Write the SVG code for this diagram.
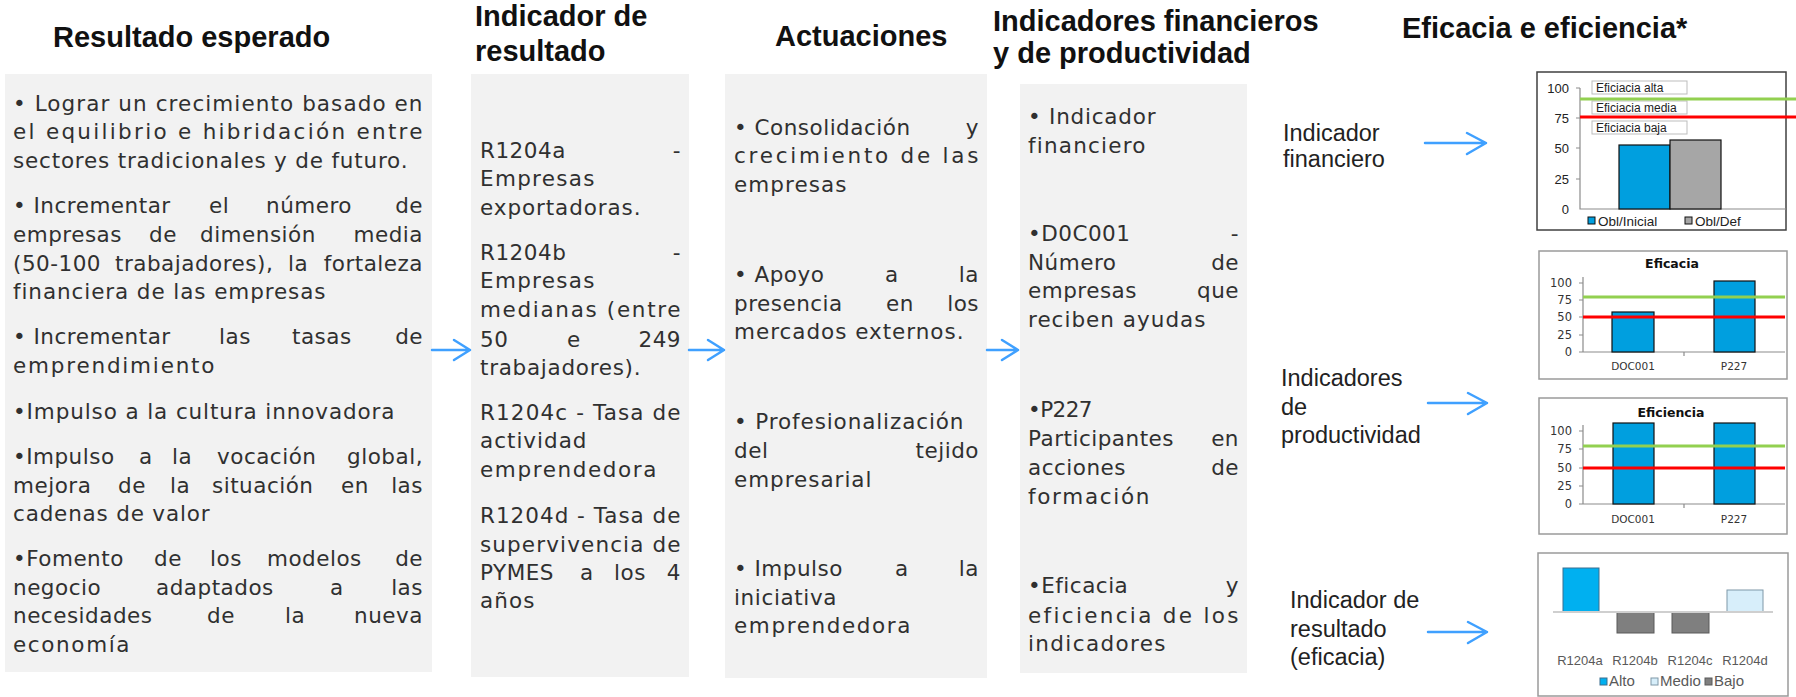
<svg xmlns="http://www.w3.org/2000/svg" width="1796" height="697" viewBox="0 0 1796 697">
<style>
.hdr{font-family:"Liberation Sans",Arial,sans-serif;font-weight:bold;font-size:29px;fill:#111}
.panel{fill:#f2f2f2}
.body{font-family:"DejaVu Sans",Verdana,sans-serif;font-size:21.5px;fill:#303030;letter-spacing:0.5px}
.e{text-anchor:end}
.lbl{font-family:"Liberation Sans",Arial,sans-serif;font-size:23.5px;fill:#222}
.arr{stroke:#3fa0ff;stroke-width:2.5;fill:none;stroke-linecap:round;stroke-linejoin:round}
.frame{fill:#fff;stroke:#9a9a9a;stroke-width:1.5}
.axis{stroke:#8c8c8c;stroke-width:1.2;fill:none}
.ax{font-family:"Liberation Sans",Arial,sans-serif;font-size:13px;fill:#222}
.axr{font-family:"DejaVu Sans",Verdana,sans-serif;font-size:11.5px;fill:#333;text-anchor:end}
.xl{font-family:"DejaVu Sans",Verdana,sans-serif;font-size:10.5px;fill:#333;text-anchor:middle}
.ttl{font-family:"DejaVu Sans",Verdana,sans-serif;font-size:12.5px;font-weight:bold;fill:#111;text-anchor:middle}
.bar{fill:#009fdf;stroke:#111;stroke-width:1.2}
.grn{stroke:#92d050;stroke-width:3}
.red{stroke:#ff0000;stroke-width:3}
.box{fill:#fff;stroke:#bdbdbd;stroke-width:1}
.bt{font-family:"Liberation Sans",Arial,sans-serif;font-size:12px;fill:#222}
.lg{font-family:"Liberation Sans",Arial,sans-serif;font-size:13.5px;fill:#222}
.cl{font-family:"Liberation Sans",Arial,sans-serif;font-size:13px;fill:#595959}
.lg4{font-family:"Liberation Sans",Arial,sans-serif;font-size:15px;fill:#595959}
</style>

<g id="header-resultado"><text class="hdr" x="53" y="47">Resultado esperado</text></g>
<g id="header-indicador"><text class="hdr" x="475" y="26">Indicador de</text><text class="hdr" x="475" y="61">resultado</text></g>
<g id="header-actuaciones"><text class="hdr" x="775" y="46">Actuaciones</text></g>
<g id="header-financieros"><text class="hdr" x="993" y="31">Indicadores financieros</text><text class="hdr" x="993" y="63">y de productividad</text></g>
<g id="header-eficacia"><text class="hdr" x="1402" y="38">Eficacia e eficiencia*</text></g>

<g id="panel-resultado">
<rect class="panel" x="5" y="74" width="427" height="598"/>
<text class="body" x="13" y="111" textLength="410">• Lograr un crecimiento basado en</text>
<text class="body" x="13" y="139" textLength="410">el equilibrio e hibridación entre</text>
<text class="body" x="13" y="168" textLength="395">sectores tradicionales y de futuro.</text>
<text class="body" y="213"><tspan x="13">• Incrementar</tspan><tspan x="209">el</tspan><tspan x="266">número</tspan><tspan class="e" x="423">de</tspan></text>
<text class="body" y="242"><tspan x="13">empresas</tspan><tspan x="149">de</tspan><tspan x="200">dimensión</tspan><tspan class="e" x="423">media</tspan></text>
<text class="body" y="271"><tspan x="13">(50-100</tspan><tspan x="115">trabajadores),</tspan><tspan x="288">la</tspan><tspan class="e" x="423">fortaleza</tspan></text>
<text class="body" x="13" y="299" textLength="313">financiera de las empresas</text>
<text class="body" y="344"><tspan x="13">• Incrementar</tspan><tspan x="219">las</tspan><tspan x="292">tasas</tspan><tspan class="e" x="423">de</tspan></text>
<text class="body" x="13" y="373" textLength="202">emprendimiento</text>
<text class="body" x="13" y="419" textLength="382">•Impulso a la cultura innovadora</text>
<text class="body" y="464"><tspan x="13">•Impulso</tspan><tspan x="139">a</tspan><tspan x="172">la</tspan><tspan x="217">vocación</tspan><tspan class="e" x="423">global,</tspan></text>
<text class="body" y="493"><tspan x="13">mejora</tspan><tspan x="118">de</tspan><tspan x="170">la</tspan><tspan x="212">situación</tspan><tspan x="341">en</tspan><tspan class="e" x="423">las</tspan></text>
<text class="body" x="13" y="521" textLength="197">cadenas de valor</text>
<text class="body" y="566"><tspan x="13">•Fomento</tspan><tspan x="154">de</tspan><tspan x="210">los</tspan><tspan x="267">modelos</tspan><tspan class="e" x="423">de</tspan></text>
<text class="body" y="595"><tspan x="13">negocio</tspan><tspan x="156">adaptados</tspan><tspan x="330">a</tspan><tspan class="e" x="423">las</tspan></text>
<text class="body" y="623"><tspan x="13">necesidades</tspan><tspan x="207">de</tspan><tspan x="285">la</tspan><tspan class="e" x="423">nueva</tspan></text>
<text class="body" x="13" y="652" textLength="117">economía</text>
</g>

<g id="panel-indicador">
<rect class="panel" x="471" y="74" width="218" height="603"/>
<text class="body" y="158"><tspan x="480">R1204a</tspan><tspan class="e" x="681">-</tspan></text>
<text class="body" x="480" y="186" textLength="115">Empresas</text>
<text class="body" x="480" y="215" textLength="161">exportadoras.</text>
<text class="body" y="260"><tspan x="480">R1204b</tspan><tspan class="e" x="681">-</tspan></text>
<text class="body" x="480" y="288" textLength="115">Empresas</text>
<text class="body" x="480" y="317" textLength="201">medianas (entre</text>
<text class="body" y="347"><tspan x="480">50</tspan><tspan x="567">e</tspan><tspan class="e" x="681">249</tspan></text>
<text class="body" x="480" y="375" textLength="161">trabajadores).</text>
<text class="body" x="480" y="420" textLength="201">R1204c - Tasa de</text>
<text class="body" x="480" y="448" textLength="107">actividad</text>
<text class="body" x="480" y="477" textLength="177">emprendedora</text>
<text class="body" x="480" y="523" textLength="201">R1204d - Tasa de</text>
<text class="body" x="480" y="552" textLength="201">supervivencia de</text>
<text class="body" y="580"><tspan x="480">PYMES</tspan><tspan x="580">a</tspan><tspan x="614">los</tspan><tspan class="e" x="681">4</tspan></text>
<text class="body" x="480" y="608" textLength="55">años</text>
</g>

<g id="panel-actuaciones">
<rect class="panel" x="725" y="74" width="262" height="604"/>
<text class="body" y="135"><tspan x="734">• Consolidación</tspan><tspan class="e" x="979">y</tspan></text>
<text class="body" x="734" y="163" textLength="245">crecimiento de las</text>
<text class="body" x="734" y="192" textLength="113">empresas</text>
<text class="body" y="282"><tspan x="734">• Apoyo</tspan><tspan x="885">a</tspan><tspan class="e" x="979">la</tspan></text>
<text class="body" y="311"><tspan x="734">presencia</tspan><tspan x="886">en</tspan><tspan class="e" x="979">los</tspan></text>
<text class="body" x="734" y="339" textLength="230">mercados externos.</text>
<text class="body" x="734" y="429" textLength="230">• Profesionalización</text>
<text class="body" y="458"><tspan x="734">del</tspan><tspan class="e" x="979">tejido</tspan></text>
<text class="body" x="734" y="487" textLength="138">empresarial</text>
<text class="body" y="576"><tspan x="734">• Impulso</tspan><tspan x="895">a</tspan><tspan class="e" x="979">la</tspan></text>
<text class="body" x="734" y="605" textLength="103">iniciativa</text>
<text class="body" x="734" y="633" textLength="177">emprendedora</text>
</g>

<g id="panel-financieros">
<rect class="panel" x="1020" y="84" width="227" height="589"/>
<text class="body" x="1028" y="124" textLength="128">• Indicador</text>
<text class="body" x="1028" y="153" textLength="118">financiero</text>
<text class="body" y="241"><tspan x="1028">•D0C001</tspan><tspan class="e" x="1239">-</tspan></text>
<text class="body" y="270"><tspan x="1028">Número</tspan><tspan class="e" x="1239">de</tspan></text>
<text class="body" y="298"><tspan x="1028">empresas</tspan><tspan class="e" x="1239">que</tspan></text>
<text class="body" x="1028" y="327" textLength="178">reciben ayudas</text>
<text class="body" x="1028" y="417" textLength="65">•P227</text>
<text class="body" y="446"><tspan x="1028">Participantes</tspan><tspan class="e" x="1239">en</tspan></text>
<text class="body" y="475"><tspan x="1028">acciones</tspan><tspan class="e" x="1239">de</tspan></text>
<text class="body" x="1028" y="504" textLength="122">formación</text>
<text class="body" y="593"><tspan x="1028">•Eficacia</tspan><tspan class="e" x="1239">y</tspan></text>
<text class="body" x="1028" y="623" textLength="211">eficiencia de los</text>
<text class="body" x="1028" y="651" textLength="138">indicadores</text>
</g>

<g id="label-financiero"><text class="lbl" x="1283" y="141">Indicador</text><text class="lbl" x="1283" y="167">financiero</text></g>
<g id="label-productividad"><text class="lbl" x="1281" y="386">Indicadores</text><text class="lbl" x="1281" y="415">de</text><text class="lbl" x="1281" y="443">productividad</text></g>
<g id="label-resultado"><text class="lbl" x="1290" y="608">Indicador de</text><text class="lbl" x="1290" y="637">resultado</text><text class="lbl" x="1290" y="665">(eficacia)</text></g>

<g id="connectors">
<path class="arr" d="M432 350H470M454 340L470 350L454 360"/>
<path class="arr" d="M689 350H724M708 340L724 350L708 360"/>
<path class="arr" d="M987 350H1018M1002 340L1018 350L1002 360"/>
<path class="arr" d="M1425 143H1486M1467 133L1486 143L1467 154"/>
<path class="arr" d="M1428 403H1487M1468 393L1487 403L1468 414"/>
<path class="arr" d="M1428 632H1487M1468 622L1487 632L1468 643"/>
</g>

<g id="chart-financiero">
<rect x="1537" y="72" width="249" height="158" fill="#fff" stroke="#404040" stroke-width="1.5"/>
<path class="axis" d="M1580 88V209H1786M1576 88H1580M1576 118H1580M1576 148H1580M1576 179H1580"/>
<text class="ax" text-anchor="end" x="1569" y="92.5">100</text>
<text class="ax" text-anchor="end" x="1569" y="122.5">75</text>
<text class="ax" text-anchor="end" x="1569" y="152.5">50</text>
<text class="ax" text-anchor="end" x="1569" y="183.5">25</text>
<text class="ax" text-anchor="end" x="1569" y="213.5">0</text>
<rect class="box" x="1592" y="81" width="95" height="13"/>
<rect class="box" x="1592" y="101" width="95" height="13"/>
<rect class="box" x="1592" y="121" width="95" height="13"/>
<text class="bt" x="1596" y="91.5">Eficiacia alta</text>
<text class="bt" x="1596" y="111.5">Eficiacia media</text>
<text class="bt" x="1596" y="131.5">Eficiacia baja</text>
<line class="grn" x1="1580" y1="99" x2="1796" y2="99"/>
<line class="red" x1="1580" y1="117" x2="1796" y2="117"/>
<rect class="bar" x="1619" y="145" width="51" height="64"/>
<rect x="1670" y="140" width="51" height="69" fill="#a6a6a6" stroke="#111" stroke-width="1.2"/>
<rect x="1588" y="217" width="7" height="7" fill="#009fdf" stroke="#111" stroke-width="1"/>
<text class="lg" x="1598" y="225.5">Obl/Inicial</text>
<rect x="1685" y="217" width="7" height="7" fill="#a6a6a6" stroke="#111" stroke-width="1"/>
<text class="lg" x="1695" y="225.5">Obl/Def</text>
</g>

<g id="chart-eficacia">
<rect class="frame" x="1539" y="251" width="248" height="128"/>
<text class="ttl" x="1672" y="268">Eficacia</text>
<path class="axis" d="M1583 277V352H1785M1579 283H1583M1579 300H1583M1579 317H1583M1579 335H1583M1579 352H1583M1684 352V356"/>
<text class="axr" x="1572" y="287">100</text>
<text class="axr" x="1572" y="304">75</text>
<text class="axr" x="1572" y="321">50</text>
<text class="axr" x="1572" y="339">25</text>
<text class="axr" x="1572" y="356">0</text>
<rect class="bar" x="1612" y="312" width="42" height="40"/>
<rect class="bar" x="1714" y="281" width="41" height="71"/>
<line class="grn" x1="1583" y1="297" x2="1785" y2="297"/>
<line class="red" x1="1583" y1="317" x2="1785" y2="317"/>
<text class="xl" x="1633" y="370">DOC001</text>
<text class="xl" x="1734" y="370">P227</text>
</g>

<g id="chart-eficiencia">
<rect class="frame" x="1539" y="398" width="248" height="136"/>
<text class="ttl" x="1671" y="417">Eficiencia</text>
<path class="axis" d="M1583 425V504H1785M1579 431H1583M1579 449H1583M1579 468H1583M1579 486H1583M1579 504H1583M1684 504V508"/>
<text class="axr" x="1572" y="435">100</text>
<text class="axr" x="1572" y="453">75</text>
<text class="axr" x="1572" y="472">50</text>
<text class="axr" x="1572" y="490">25</text>
<text class="axr" x="1572" y="508">0</text>
<rect class="bar" x="1613" y="423" width="41" height="81"/>
<rect class="bar" x="1714" y="423" width="41" height="81"/>
<line class="grn" x1="1583" y1="446" x2="1785" y2="446"/>
<line class="red" x1="1583" y1="468" x2="1785" y2="468"/>
<text class="xl" x="1633" y="523">DOC001</text>
<text class="xl" x="1734" y="523">P227</text>
</g>

<g id="chart-resultado">
<rect class="frame" x="1538" y="553" width="250" height="143"/>
<rect x="1563" y="568" width="36" height="44" fill="#00b0f0" stroke="#3a6f8f" stroke-width="1"/>
<rect x="1617" y="612" width="37" height="21" fill="#7f7f7f" stroke="#5a5a5a" stroke-width="1"/>
<rect x="1672" y="612" width="37" height="21" fill="#7f7f7f" stroke="#5a5a5a" stroke-width="1"/>
<rect x="1727" y="590" width="36" height="22" fill="#d7eefa" stroke="#7f98a8" stroke-width="1"/>
<line x1="1553" y1="612" x2="1773" y2="612" stroke="#cfcfcf" stroke-width="2"/>
<text class="cl" text-anchor="middle" x="1580" y="665">R1204a</text>
<text class="cl" text-anchor="middle" x="1635" y="665">R1204b</text>
<text class="cl" text-anchor="middle" x="1690" y="665">R1204c</text>
<text class="cl" text-anchor="middle" x="1745" y="665">R1204d</text>
<rect x="1600" y="678" width="7" height="7" fill="#00b0f0" stroke="#3a6f8f" stroke-width="1"/>
<text class="lg4" x="1609" y="686">Alto</text>
<rect x="1651" y="678" width="7" height="7" fill="#d7eefa" stroke="#7f98a8" stroke-width="1"/>
<text class="lg4" x="1660" y="686">Medio</text>
<rect x="1705" y="678" width="7" height="7" fill="#7f7f7f" stroke="#5a5a5a" stroke-width="1"/>
<text class="lg4" x="1714" y="686">Bajo</text>
</g>
</svg>
